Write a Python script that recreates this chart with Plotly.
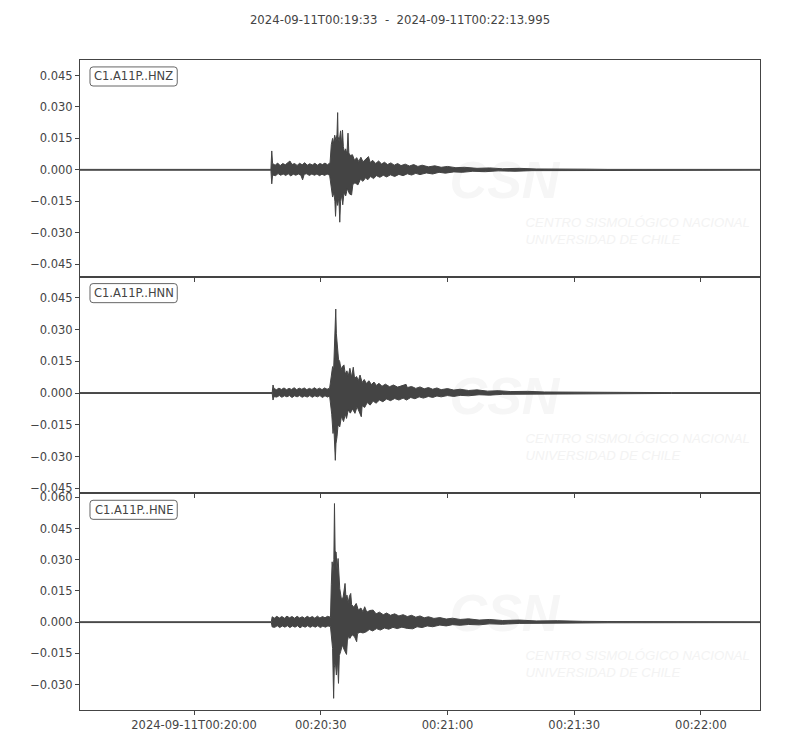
import pandas as pd
import plotly.graph_objects as go
from plotly.subplots import make_subplots

## Time window of the record
start = pd.Timestamp("2024-09-11T00:19:33")
end = pd.Timestamp("2024-09-11T00:22:13.995")
title_text = "2024-09-11T00:19:33  -  2024-09-11T00:22:13.995"

channels = ["C1.A11P..HNZ", "C1.A11P..HNN", "C1.A11P..HNE"]

## Envelopes as (seconds after start, amplitude)
hnz_upper = [(0, 0.0002), (45.2, 0.0002), (45.4, 0.009), (45.6, 0.003), (46.2, 0.0022), (46.8, 0.0032),
             (47.4, 0.002), (48.0, 0.003), (48.6, 0.0024), (49.2, 0.0033), (49.7, 0.0042), (50.2, 0.0025),
             (50.8, 0.003), (51.4, 0.0021), (52.0, 0.0031), (52.6, 0.0024), (53.2, 0.0034), (53.8, 0.0022),
             (54.4, 0.0029), (55.0, 0.0023), (55.6, 0.0031), (56.2, 0.0022), (56.8, 0.003), (57.4, 0.0025),
             (58.0, 0.0032), (58.6, 0.0024), (59.2, 0.0034), (59.5, 0.012), (59.8, 0.015), (60.0, 0.0125),
             (60.3, 0.0165), (60.6, 0.014), (60.85, 0.017), (61.0, 0.0273), (61.1, 0.016), (61.35, 0.0135),
             (61.7, 0.0186), (61.9, 0.012), (62.15, 0.019), (62.35, 0.011), (62.6, 0.0085), (62.9, 0.010),
             (63.2, 0.0075), (63.45, 0.0175), (63.65, 0.008), (64.0, 0.0068), (64.5, 0.0072), (65.0, 0.0045),
             (65.5, 0.0058), (66.0, 0.004), (66.5, 0.006), (67.0, 0.0038), (67.6, 0.005), (68.3, 0.0063),
             (68.7, 0.0035), (69.3, 0.0045), (70.0, 0.003), (70.7, 0.0042), (71.4, 0.0028), (72.1, 0.0036),
             (72.8, 0.0025), (73.6, 0.0033), (74.4, 0.0022), (75.2, 0.003), (76.0, 0.002), (77.0, 0.0027),
             (78.0, 0.0018), (79.0, 0.0025), (80.0, 0.0016), (81.0, 0.0022), (82.5, 0.0014), (84.0, 0.0019),
             (85.5, 0.0012), (87.0, 0.0016), (89.0, 0.001), (91.0, 0.0012), (94, 0.0007), (97, 0.0009),
             (100, 0.0005), (104, 0.0007), (108, 0.0004), (113, 0.0005), (120, 0.0003), (125, 0.0002),
             (161, 0.0002)]
hnz_lower = [(0, -0.0002), (45.2, -0.0002), (45.4, -0.0067), (45.6, -0.0025), (46.3, -0.0028),
             (46.9, -0.0018), (47.5, -0.0026), (48.1, -0.002), (48.7, -0.0027), (49.3, -0.0019),
             (49.9, -0.0029), (50.5, -0.0021), (51.1, -0.0026), (51.7, -0.002), (52.3, -0.0026),
             (52.7, -0.0048), (53.1, -0.0021), (53.7, -0.0019), (54.3, -0.0027), (54.9, -0.002),
             (55.5, -0.0026), (56.1, -0.002), (56.7, -0.0028), (57.3, -0.0021), (57.9, -0.0027),
             (58.5, -0.002), (59.1, -0.0026), (59.5, -0.008), (59.8, -0.013), (60.1, -0.011),
             (60.35, -0.015), (60.5, -0.0222), (60.7, -0.014), (61.0, -0.017), (61.3, -0.013), (61.5, -0.025),
             (61.7, -0.015), (62.0, -0.012), (62.2, -0.0167), (62.5, -0.011), (62.9, -0.0125), (63.3, -0.009),
             (63.8, -0.0115), (64.3, -0.012), (64.6, -0.007), (65.1, -0.0062), (65.8, -0.0072),
             (66.4, -0.0045), (67.0, -0.0055), (67.6, -0.0038), (68.1, -0.0048), (68.8, -0.0032),
             (69.5, -0.0042), (70.2, -0.0028), (71.0, -0.0036), (71.8, -0.0026), (72.6, -0.0034),
             (73.5, -0.0024), (74.5, -0.0032), (75.5, -0.0022), (76.5, -0.0028), (77.5, -0.0019),
             (78.5, -0.0025), (79.5, -0.0017), (80.5, -0.0023), (82.0, -0.0015), (83.5, -0.002),
             (85.0, -0.0012), (86.5, -0.0016), (88.5, -0.001), (90.5, -0.0012), (93, -0.0007), (96, -0.0009),
             (99, -0.0005), (103, -0.0007), (107, -0.0004), (112, -0.0005), (118, -0.0003), (125, -0.0002),
             (161, -0.0002)]

hnn_upper = [(0, 0.0002), (45.5, 0.0002), (45.7, 0.0038), (45.9, 0.0022), (46.5, 0.0016), (47.1, 0.0023),
             (47.7, 0.0017), (48.3, 0.0024), (48.9, 0.0016), (49.5, 0.0022), (50.1, 0.0017), (50.7, 0.0025),
             (51.3, 0.0016), (51.9, 0.0023), (52.5, 0.0018), (53.1, 0.0024), (53.7, 0.0016), (54.3, 0.0022),
             (54.9, 0.0017), (55.5, 0.0025), (56.1, 0.0017), (56.7, 0.0023), (57.3, 0.0016), (57.9, 0.0024),
             (58.5, 0.0018), (59.1, 0.0023), (59.5, 0.008), (59.8, 0.0125), (60.05, 0.011), (60.3, 0.025),
             (60.45, 0.030), (60.55, 0.0397), (60.7, 0.028), (60.95, 0.0213), (61.2, 0.016), (61.5, 0.0148),
             (61.8, 0.011), (62.1, 0.0125), (62.5, 0.0133), (62.8, 0.009), (63.2, 0.0105), (63.5, 0.008),
             (63.9, 0.0117), (64.3, 0.0075), (64.7, 0.0122), (65.0, 0.007), (65.5, 0.0078), (65.9, 0.0058),
             (66.3, 0.0085), (66.8, 0.005), (67.3, 0.0064), (67.8, 0.0045), (68.4, 0.0058), (69.0, 0.004),
             (69.6, 0.0052), (70.2, 0.0036), (70.8, 0.0046), (71.5, 0.0032), (72.3, 0.0042), (73.3, 0.003),
             (74.2, 0.0038), (75.2, 0.0028), (76.2, 0.0034), (77.2, 0.0041), (77.5, 0.0026), (78.5, 0.0031),
             (79.5, 0.0022), (80.5, 0.0029), (81.5, 0.002), (82.5, 0.0026), (83.5, 0.0018), (84.5, 0.0024),
             (85.5, 0.0016), (87, 0.0021), (88.5, 0.0014), (90, 0.0018), (92, 0.0012), (94, 0.0015),
             (96.5, 0.0009), (99, 0.0011), (102, 0.0007), (106, 0.0008), (110, 0.0005), (116, 0.0004),
             (122, 0.0005), (130, 0.0003), (140, 0.0002), (161, 0.0002)]
hnn_lower = [(0, -0.0002), (45.5, -0.0002), (45.7, -0.0033), (45.9, -0.0017), (46.6, -0.0019),
             (47.2, -0.0012), (47.8, -0.002), (48.4, -0.0013), (49.0, -0.0018), (49.6, -0.0012),
             (50.2, -0.0021), (50.8, -0.0013), (51.4, -0.0018), (52.0, -0.0012), (52.6, -0.002),
             (53.2, -0.0014), (53.8, -0.0019), (54.4, -0.0012), (55.0, -0.002), (55.6, -0.0013),
             (56.2, -0.0018), (56.8, -0.0012), (57.4, -0.0021), (58.0, -0.0013), (58.6, -0.0019),
             (59.1, -0.0014), (59.6, -0.010), (59.9, -0.0191), (60.1, -0.016), (60.3, -0.024),
             (60.45, -0.0318), (60.6, -0.024), (60.85, -0.0207), (61.1, -0.015), (61.5, -0.016),
             (61.9, -0.011), (62.4, -0.0135), (62.8, -0.010), (63.1, -0.012), (63.5, -0.008), (64.0, -0.0095),
             (64.5, -0.0075), (65.1, -0.0096), (65.6, -0.0065), (66.1, -0.0085), (66.6, -0.0112),
             (66.8, -0.006), (67.4, -0.0068), (68.0, -0.0045), (68.7, -0.0057), (69.4, -0.0038),
             (70.1, -0.0048), (70.9, -0.0033), (71.7, -0.0041), (72.6, -0.0028), (73.5, -0.0036),
             (74.5, -0.0026), (75.5, -0.0033), (76.5, -0.0024), (77.3, -0.0033), (78.3, -0.0021),
             (79.3, -0.0027), (80.3, -0.0018), (81.3, -0.0024), (82.5, -0.0016), (83.5, -0.0021),
             (84.5, -0.0014), (85.5, -0.0018), (87, -0.0012), (88.5, -0.0016), (90, -0.0011), (92, -0.0013),
             (94.5, -0.0008), (97, -0.001), (100, -0.0006), (104, -0.0008), (108, -0.0005), (114, -0.0004),
             (120, -0.0003), (130, -0.0003), (140, -0.0002), (161, -0.0002)]

hne_upper = [(0, 0.0002), (45.3, 0.0002), (45.5, 0.0026), (46.0, 0.0019), (46.6, 0.0028), (47.2, 0.002),
             (47.8, 0.0027), (48.4, 0.0019), (49.0, 0.0029), (49.6, 0.0021), (50.2, 0.0027), (50.8, 0.0019),
             (51.4, 0.0028), (52.0, 0.002), (52.6, 0.0026), (53.2, 0.0019), (53.8, 0.0028), (54.4, 0.0021),
             (55.0, 0.0027), (55.6, 0.0019), (56.2, 0.0029), (56.8, 0.002), (57.4, 0.0027), (58.0, 0.0021),
             (58.6, 0.0028), (59.3, 0.0024), (59.5, 0.018), (59.7, 0.029), (59.9, 0.024), (60.1, 0.030),
             (60.25, 0.057), (60.4, 0.034), (60.64, 0.0337), (60.85, 0.025), (61.1, 0.0306), (61.3, 0.018),
             (61.5, 0.0162), (61.9, 0.011), (62.3, 0.012), (62.75, 0.0186), (63.0, 0.011), (63.2, 0.013),
             (63.5, 0.0095), (63.8, 0.0125), (64.1, 0.0138), (64.3, 0.0085), (64.8, 0.0072), (65.4, 0.009),
             (65.9, 0.0058), (66.5, 0.0068), (67.0, 0.005), (67.4, 0.0074), (67.9, 0.0048), (68.6, 0.0056),
             (69.4, 0.0058), (70.1, 0.004), (70.9, 0.0048), (71.8, 0.0036), (72.6, 0.0044), (73.5, 0.0033),
             (74.5, 0.004), (75.5, 0.003), (76.5, 0.0036), (77.5, 0.0027), (78.5, 0.0033), (79.5, 0.0024),
             (80.5, 0.003), (81.5, 0.0021), (82.5, 0.0026), (83.8, 0.0018), (85.2, 0.0022), (86.7, 0.0015),
             (88.2, 0.0019), (90, 0.0013), (92, 0.0016), (94.5, 0.001), (97, 0.0013), (100, 0.0008),
             (104, 0.001), (108, 0.0006), (113, 0.0007), (119, 0.0004), (125, 0.0003), (161, 0.0002)]
hne_lower = [(0, -0.0002), (45.3, -0.0002), (45.5, -0.0023), (46.1, -0.0025), (46.7, -0.0017),
             (47.3, -0.0026), (47.9, -0.0018), (48.5, -0.0024), (49.1, -0.0017), (49.7, -0.0026),
             (50.3, -0.0018), (50.9, -0.0024), (51.5, -0.0017), (52.1, -0.0027), (52.7, -0.0019),
             (53.3, -0.0024), (53.9, -0.0017), (54.5, -0.0025), (55.1, -0.0018), (55.7, -0.0024),
             (56.3, -0.0017), (56.9, -0.0026), (57.5, -0.0019), (58.1, -0.0024), (58.7, -0.0018),
             (59.3, -0.0021), (59.6, -0.009), (59.8, -0.0126), (60.05, -0.0366), (60.2, -0.022),
             (60.45, -0.019), (60.7, -0.0254), (60.95, -0.018), (61.2, -0.0294), (61.4, -0.016),
             (61.7, -0.0142), (62.1, -0.011), (62.6, -0.0135), (63.1, -0.0155), (63.3, -0.009),
             (63.6, -0.0065), (63.9, -0.0078), (64.4, -0.006), (65.0, -0.007), (65.5, -0.0094),
             (65.7, -0.0055), (66.3, -0.0048), (67.0, -0.0052), (67.8, -0.0046), (68.5, -0.0035),
             (69.3, -0.0042), (70.2, -0.0031), (71.1, -0.0038), (72.1, -0.0028), (73.1, -0.0034),
             (74.1, -0.0025), (75.1, -0.0031), (76.2, -0.0024), (77.5, -0.003), (78.8, -0.0032),
             (79.8, -0.0022), (81.0, -0.0026), (82.2, -0.0018), (83.5, -0.0022), (85.2, -0.0014),
             (86.7, -0.0018), (88.2, -0.0012), (90, -0.0015), (92, -0.0011), (94.5, -0.0013), (97, -0.0008),
             (100, -0.001), (104, -0.0006), (108, -0.0007), (113, -0.0004), (119, -0.0004), (125, -0.0003),
             (161, -0.0002)]

## Axis settings
y_ranges = [[-0.051, 0.0524], [-0.0474, 0.055], [-0.0422, 0.0619]]
y_ticks = [[-0.045, -0.030, -0.015, 0.0, 0.015, 0.030, 0.045],
           [-0.045, -0.030, -0.015, 0.0, 0.015, 0.030, 0.045],
           [-0.030, -0.015, 0.0, 0.015, 0.030, 0.045, 0.060]]
x_tick_times = ["2024-09-11T00:20:00", "2024-09-11T00:20:30", "2024-09-11T00:21:00",
                "2024-09-11T00:21:30", "2024-09-11T00:22:00"]
x_tick_labels = ["2024-09-11T00:20:00", "00:20:30", "00:21:00", "00:21:30", "00:22:00"]

envelopes = [(hnz_upper, hnz_lower), (hnn_upper, hnn_lower), (hne_upper, hne_lower)]

ink = "#444444"
text_col = "#444444"
font_name = "DejaVu Sans"


def rounded_box(x0, y0, x1, y1, rx, ry):
    ## SVG path of a small rounded rectangle (domain units)
    return ("M %f,%f L %f,%f Q %f,%f %f,%f L %f,%f Q %f,%f %f,%f L %f,%f Q %f,%f %f,%f "
            "L %f,%f Q %f,%f %f,%f Z") % (
        x0 + rx, y1, x1 - rx, y1, x1, y1, x1, y1 - ry, x1, y0 + ry, x1, y0, x1 - rx, y0,
        x0 + rx, y0, x0, y0, x0, y0 + ry, x0, y1 - ry, x0, y1, x0 + rx, y1)


fig = make_subplots(rows=3, cols=1, shared_xaxes=True, vertical_spacing=0)

for i, (upper, lower) in enumerate(envelopes):
    lo, hi = y_ranges[i]

    ## Faint CSN watermark, drawn first so the trace lies on top of it
    fig.add_trace(go.Scatter(x=[start + pd.Timedelta(seconds=87.5)], y=[lo + 0.425 * (hi - lo)],
                             mode="text", text=["<b><i>CSN</i></b>"], textposition="middle right",
                             textfont=dict(family="Liberation Sans", size=52, color="#f6f6f6"),
                             hoverinfo="skip", showlegend=False),
                  row=i + 1, col=1)
    fig.add_trace(go.Scatter(x=[start + pd.Timedelta(seconds=105.5)], y=[lo + 0.207 * (hi - lo)],
                             mode="text",
                             text=["<i>CENTRO SISMOLÓGICO NACIONAL<br>UNIVERSIDAD DE CHILE</i>"],
                             textposition="middle right",
                             textfont=dict(family="Liberation Sans", size=13.2, color="#f3f3f3"),
                             hoverinfo="skip", showlegend=False),
                  row=i + 1, col=1)

    ## Closed outline: upper envelope left->right, then lower envelope right->left
    pts = list(upper) + list(lower)[::-1]
    x_time = start + pd.to_timedelta([p[0] for p in pts], unit="s")
    fig.add_trace(go.Scatter(x=x_time, y=[p[1] for p in pts], mode="lines", fill="toself",
                             fillcolor=ink, line=dict(color=ink, width=1),
                             hoverinfo="skip", showlegend=False),
                  row=i + 1, col=1)

    xd = "x domain" if i == 0 else "x%d domain" % (i + 1)
    yd = "y domain" if i == 0 else "y%d domain" % (i + 1)

    ## Station label in a rounded box
    fig.add_shape(type="path", xref=xd, yref=yd,
                  path=rounded_box(0.0147, 0.880, 0.143, 0.968, 0.0045, 0.014),
                  line=dict(color="#666666", width=1), fillcolor="white", layer="above")
    fig.add_annotation(text=channels[i], xref=xd, yref=yd, x=0.0789, y=0.924,
                       xanchor="center", yanchor="middle", showarrow=False,
                       font=dict(family=font_name, size=11.5, color=text_col))

    fig.update_yaxes(range=y_ranges[i], tickvals=y_ticks[i], tickformat=".3f",
                     row=i + 1, col=1)

fig.update_xaxes(range=[start, end], type="date", showgrid=False, zeroline=False,
                 showline=True, mirror=True, linecolor=ink, linewidth=1,
                 ticks="outside", ticklen=4, tickcolor=ink,
                 tickvals=pd.to_datetime(x_tick_times), ticktext=x_tick_labels,
                 tickfont=dict(family=font_name, size=11.5, color=text_col))
fig.update_yaxes(showgrid=False, zeroline=False, showline=True, mirror=True,
                 linecolor=ink, linewidth=1, ticks="outside", ticklen=4, tickcolor=ink,
                 tickfont=dict(family=font_name, size=11.5, color=text_col))

## The page adds an 8px body margin, so the figure is a bit smaller than the window
fig.update_layout(width=792, height=742, plot_bgcolor="white", paper_bgcolor="white",
                  margin=dict(l=72, r=40, t=52, b=40),
                  title=dict(text=title_text, x=0.495, xref="container", xanchor="center",
                             y=0.984, yref="container", yanchor="middle",
                             font=dict(family=font_name, size=11.7, color=text_col)),
                  showlegend=False)

fig.write_html("out.html")
